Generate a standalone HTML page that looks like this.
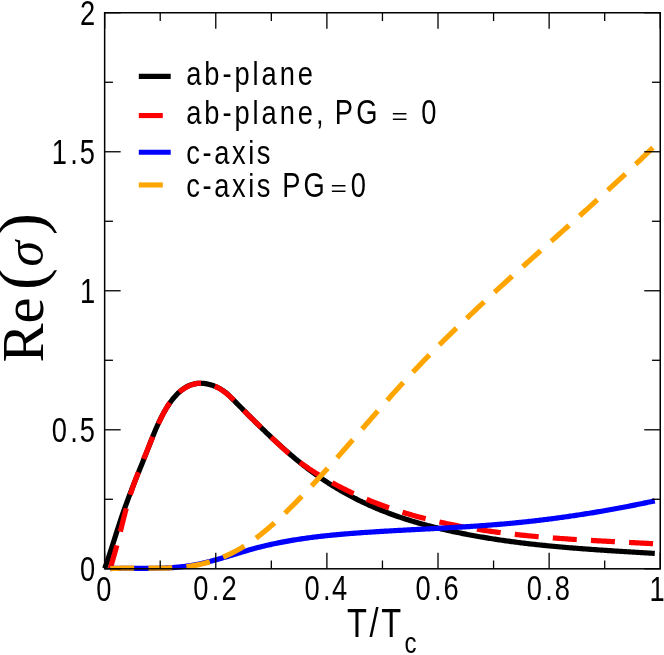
<!DOCTYPE html>
<html><head><meta charset="utf-8"><title>Re(sigma) vs T/Tc</title>
<style>
html,body{margin:0;padding:0;background:#fff;}
svg{display:block;font-family:"Liberation Sans",sans-serif;will-change:transform;}
.serif{font-family:"Liberation Serif",serif;}
</style></head><body>
<svg width="664" height="655" viewBox="0 0 664 655">
<rect x="0" y="0" width="664" height="655" fill="#fff"/>
<g fill="none" stroke-width="5.2" stroke-linecap="butt" stroke-linejoin="round">
<path stroke="#000" d="M104.70,568.41 L106.08,564.57 L107.46,560.60 L108.84,556.51 L110.21,552.33 L111.59,548.08 L112.97,543.78 L114.35,539.46 L115.73,535.13 L117.11,530.81 L118.49,526.54 L119.87,522.32 L121.24,518.18 L122.62,514.14 L124.00,510.20 L125.38,506.33 L126.76,502.54 L128.14,498.82 L129.52,495.17 L130.90,491.56 L132.27,488.01 L133.65,484.50 L135.03,481.02 L136.41,477.58 L137.79,474.15 L139.17,470.73 L140.55,467.32 L141.92,463.92 L143.30,460.50 L144.68,457.06 L146.06,453.60 L147.44,450.11 L148.82,446.59 L150.20,443.05 L151.58,439.52 L152.95,436.05 L154.33,432.65 L155.71,429.36 L157.09,426.21 L158.47,423.19 L159.85,420.29 L161.23,417.52 L162.61,414.88 L163.98,412.36 L165.36,409.96 L166.74,407.68 L168.12,405.52 L169.50,403.47 L170.88,401.54 L172.26,399.71 L173.63,398.00 L175.01,396.39 L176.39,394.88 L177.77,393.48 L179.15,392.18 L180.53,390.98 L181.91,389.88 L183.29,388.86 L184.66,387.95 L186.04,387.12 L187.42,386.38 L188.80,385.72 L190.18,385.15 L191.56,384.66 L192.94,384.24 L194.32,383.91 L195.69,383.64 L197.07,383.45 L198.45,383.32 L199.83,383.26 L201.21,383.26 L202.59,383.33 L203.97,383.45 L205.34,383.63 L206.72,383.87 L208.10,384.15 L209.48,384.49 L210.86,384.87 L212.24,385.30 L213.62,385.78 L215.00,386.31 L216.37,386.89 L217.75,387.54 L219.13,388.25 L220.51,389.02 L221.89,389.87 L223.27,390.78 L224.65,391.78 L226.03,392.85 L227.40,394.01 L228.78,395.25 L230.16,396.58 L231.54,397.97 L232.92,399.38 L234.30,400.78 L235.68,402.18 L237.05,403.58 L238.43,404.98 L239.81,406.38 L241.19,407.78 L242.57,409.17 L243.95,410.56 L245.33,411.95 L246.71,413.33 L248.08,414.72 L249.46,416.10 L250.84,417.47 L252.22,418.84 L253.60,420.21 L254.98,421.58 L256.36,422.94 L257.74,424.29 L259.11,425.64 L260.49,426.99 L261.87,428.33 L263.25,429.66 L264.63,430.99 L266.01,432.32 L267.39,433.64 L268.76,434.95 L270.14,436.25 L271.52,437.55 L272.90,438.84 L274.28,440.13 L275.66,441.41 L277.04,442.68 L278.42,443.94 L279.79,445.20 L281.17,446.44 L282.55,447.68 L283.93,448.91 L285.31,450.13 L286.69,451.35 L288.07,452.55 L289.45,453.74 L290.82,454.93 L292.20,456.10 L293.58,457.27 L294.96,458.42 L296.34,459.57 L297.72,460.70 L299.10,461.82 L300.47,462.94 L301.85,464.04 L303.23,465.13 L304.61,466.21 L305.99,467.27 L307.37,468.33 L308.75,469.37 L310.13,470.40 L311.50,471.43 L312.88,472.44 L314.26,473.44 L315.64,474.42 L317.02,475.40 L318.40,476.37 L319.78,477.32 L321.16,478.27 L322.53,479.20 L323.91,480.13 L325.29,481.04 L326.67,481.94 L328.05,482.84 L329.43,483.72 L330.81,484.59 L332.18,485.46 L333.56,486.31 L334.94,487.15 L336.32,487.98 L337.70,488.81 L339.08,489.62 L340.46,490.43 L341.84,491.22 L343.21,492.01 L344.59,492.78 L345.97,493.55 L347.35,494.31 L348.73,495.06 L350.11,495.80 L351.49,496.53 L352.87,497.25 L354.24,497.96 L355.62,498.67 L357.00,499.36 L358.38,500.05 L359.76,500.73 L361.14,501.40 L362.52,502.07 L363.89,502.72 L365.27,503.37 L366.65,504.01 L368.03,504.64 L369.41,505.26 L370.79,505.87 L372.17,506.48 L373.55,507.08 L374.92,507.67 L376.30,508.26 L377.68,508.84 L379.06,509.41 L380.44,509.97 L381.82,510.53 L383.20,511.08 L384.58,511.62 L385.95,512.15 L387.33,512.68 L388.71,513.20 L390.09,513.72 L391.47,514.23 L392.85,514.73 L394.23,515.22 L395.61,515.71 L396.98,516.20 L398.36,516.67 L399.74,517.14 L401.12,517.61 L402.50,518.07 L403.88,518.52 L405.26,518.97 L406.63,519.41 L408.01,519.85 L409.39,520.28 L410.77,520.70 L412.15,521.12 L413.53,521.54 L414.91,521.95 L416.29,522.35 L417.66,522.75 L419.04,523.14 L420.42,523.53 L421.80,523.92 L423.18,524.30 L424.56,524.67 L425.94,525.05 L427.32,525.41 L428.69,525.77 L430.07,526.13 L431.45,526.49 L432.83,526.84 L434.21,527.18 L435.59,527.52 L436.97,527.86 L438.34,528.19 L439.72,528.52 L441.10,528.85 L442.48,529.17 L443.86,529.49 L445.24,529.81 L446.62,530.12 L448.00,530.43 L449.37,530.74 L450.75,531.04 L452.13,531.34 L453.51,531.64 L454.89,531.93 L456.27,532.22 L457.65,532.51 L459.03,532.79 L460.40,533.07 L461.78,533.35 L463.16,533.63 L464.54,533.90 L465.92,534.17 L467.30,534.44 L468.68,534.70 L470.05,534.96 L471.43,535.22 L472.81,535.47 L474.19,535.73 L475.57,535.98 L476.95,536.22 L478.33,536.47 L479.71,536.71 L481.08,536.95 L482.46,537.18 L483.84,537.42 L485.22,537.65 L486.60,537.88 L487.98,538.10 L489.36,538.33 L490.74,538.55 L492.11,538.77 L493.49,538.98 L494.87,539.19 L496.25,539.41 L497.63,539.61 L499.01,539.82 L500.39,540.02 L501.76,540.23 L503.14,540.42 L504.52,540.62 L505.90,540.82 L507.28,541.01 L508.66,541.20 L510.04,541.39 L511.42,541.57 L512.79,541.76 L514.17,541.94 L515.55,542.12 L516.93,542.29 L518.31,542.47 L519.69,542.64 L521.07,542.81 L522.45,542.98 L523.82,543.15 L525.20,543.32 L526.58,543.48 L527.96,543.64 L529.34,543.80 L530.72,543.96 L532.10,544.11 L533.47,544.27 L534.85,544.42 L536.23,544.57 L537.61,544.72 L538.99,544.87 L540.37,545.01 L541.75,545.16 L543.13,545.30 L544.50,545.44 L545.88,545.58 L547.26,545.72 L548.64,545.85 L550.02,545.99 L551.40,546.12 L552.78,546.25 L554.16,546.38 L555.53,546.51 L556.91,546.63 L558.29,546.76 L559.67,546.88 L561.05,547.01 L562.43,547.13 L563.81,547.25 L565.18,547.37 L566.56,547.48 L567.94,547.60 L569.32,547.72 L570.70,547.83 L572.08,547.94 L573.46,548.05 L574.84,548.16 L576.21,548.27 L577.59,548.38 L578.97,548.49 L580.35,548.59 L581.73,548.70 L583.11,548.80 L584.49,548.91 L585.87,549.01 L587.24,549.11 L588.62,549.21 L590.00,549.31 L591.38,549.41 L592.76,549.51 L594.14,549.60 L595.52,549.70 L596.89,549.80 L598.27,549.89 L599.65,549.99 L601.03,550.08 L602.41,550.17 L603.79,550.26 L605.17,550.35 L606.55,550.45 L607.92,550.54 L609.30,550.63 L610.68,550.71 L612.06,550.80 L613.44,550.89 L614.82,550.98 L616.20,551.07 L617.58,551.15 L618.95,551.24 L620.33,551.33 L621.71,551.41 L623.09,551.50 L624.47,551.58 L625.85,551.67 L627.23,551.75 L628.60,551.84 L629.98,551.92 L631.36,552.00 L632.74,552.09 L634.12,552.17 L635.50,552.25 L636.88,552.34 L638.26,552.42 L639.63,552.50 L641.01,552.59 L642.39,552.67 L643.77,552.75 L645.15,552.84 L646.53,552.92 L647.91,553.00 L649.29,553.09 L650.66,553.17 L652.04,553.25 L653.42,553.34 L654.80,553.42"/>
<path stroke="#f00" stroke-dasharray="24.0 14.2" d="M110.30,568.49 L111.66,563.73 L113.03,559.02 L114.39,554.30 L115.76,549.46 L117.12,544.43 L118.49,539.16 L119.85,533.73 L121.22,528.21 L122.58,522.69 L123.95,517.24 L125.31,511.94 L126.68,506.88 L128.04,502.08 L129.41,497.55 L130.77,493.24 L132.13,489.15 L133.50,485.23 L134.86,481.46 L136.23,477.83 L137.59,474.30 L138.96,470.85 L140.32,467.45 L141.69,464.08 L143.05,460.72 L144.42,457.34 L145.78,453.95 L147.15,450.55 L148.51,447.17 L149.88,443.80 L151.24,440.46 L152.60,437.16 L153.97,433.90 L155.33,430.70 L156.70,427.56 L158.06,424.51 L159.43,421.53 L160.79,418.66 L162.16,415.88 L163.52,413.22 L164.89,410.69 L166.25,408.29 L167.62,406.03 L168.98,403.92 L170.35,401.95 L171.71,400.11 L173.07,398.40 L174.44,396.81 L175.80,395.34 L177.17,393.97 L178.53,392.72 L179.90,391.56 L181.26,390.49 L182.63,389.51 L183.99,388.60 L185.36,387.77 L186.72,387.02 L188.09,386.33 L189.45,385.71 L190.82,385.15 L192.18,384.67 L193.54,384.25 L194.91,383.90 L196.27,383.62 L197.64,383.40 L199.00,383.25 L200.37,383.16 L201.73,383.14 L203.10,383.18 L204.46,383.28 L205.83,383.45 L207.19,383.69 L208.56,383.98 L209.92,384.34 L211.28,384.76 L212.65,385.24 L214.01,385.79 L215.38,386.39 L216.74,387.05 L218.11,387.78 L219.47,388.56 L220.84,389.40 L222.20,390.30 L223.57,391.26 L224.93,392.28 L226.30,393.36 L227.66,394.49 L229.03,395.67 L230.39,396.91 L231.75,398.18 L233.12,399.50 L234.48,400.84 L235.85,402.22 L237.21,403.61 L238.58,405.02 L239.94,406.44 L241.31,407.86 L242.67,409.28 L244.04,410.69 L245.40,412.09 L246.77,413.47 L248.13,414.84 L249.50,416.20 L250.86,417.55 L252.22,418.88 L253.59,420.21 L254.95,421.53 L256.32,422.84 L257.68,424.16 L259.05,425.47 L260.41,426.78 L261.78,428.09 L263.14,429.40 L264.51,430.72 L265.87,432.04 L267.24,433.36 L268.60,434.68 L269.97,436.01 L271.33,437.32 L272.69,438.64 L274.06,439.95 L275.42,441.25 L276.79,442.55 L278.15,443.83 L279.52,445.11 L280.88,446.37 L282.25,447.62 L283.61,448.85 L284.98,450.07 L286.34,451.28 L287.71,452.46 L289.07,453.62 L290.44,454.77 L291.80,455.89 L293.16,457.00 L294.53,458.09 L295.89,459.17 L297.26,460.22 L298.62,461.26 L299.99,462.29 L301.35,463.30 L302.72,464.29 L304.08,465.27 L305.45,466.23 L306.81,467.18 L308.18,468.12 L309.54,469.04 L310.91,469.95 L312.27,470.84 L313.63,471.73 L315.00,472.60 L316.36,473.46 L317.73,474.31 L319.09,475.15 L320.46,475.98 L321.82,476.79 L323.19,477.60 L324.55,478.40 L325.92,479.19 L327.28,479.98 L328.65,480.75 L330.01,481.52 L331.38,482.27 L332.74,483.02 L334.10,483.77 L335.47,484.50 L336.83,485.23 L338.20,485.95 L339.56,486.66 L340.93,487.36 L342.29,488.06 L343.66,488.75 L345.02,489.43 L346.39,490.10 L347.75,490.77 L349.12,491.43 L350.48,492.08 L351.85,492.73 L353.21,493.36 L354.57,493.99 L355.94,494.62 L357.30,495.24 L358.67,495.85 L360.03,496.45 L361.40,497.05 L362.76,497.64 L364.13,498.22 L365.49,498.80 L366.86,499.37 L368.22,499.94 L369.59,500.50 L370.95,501.05 L372.32,501.60 L373.68,502.14 L375.04,502.67 L376.41,503.20 L377.77,503.72 L379.14,504.24 L380.50,504.75 L381.87,505.25 L383.23,505.75 L384.60,506.24 L385.96,506.73 L387.33,507.21 L388.69,507.69 L390.06,508.16 L391.42,508.63 L392.78,509.09 L394.15,509.54 L395.51,509.99 L396.88,510.44 L398.24,510.88 L399.61,511.31 L400.97,511.74 L402.34,512.17 L403.70,512.59 L405.07,513.00 L406.43,513.42 L407.80,513.82 L409.16,514.22 L410.53,514.62 L411.89,515.01 L413.25,515.40 L414.62,515.78 L415.98,516.16 L417.35,516.53 L418.71,516.90 L420.08,517.27 L421.44,517.63 L422.81,517.98 L424.17,518.34 L425.54,518.69 L426.90,519.03 L428.27,519.37 L429.63,519.71 L431.00,520.04 L432.36,520.37 L433.72,520.69 L435.09,521.01 L436.45,521.33 L437.82,521.64 L439.18,521.95 L440.55,522.26 L441.91,522.56 L443.28,522.86 L444.64,523.16 L446.01,523.45 L447.37,523.74 L448.74,524.03 L450.10,524.31 L451.47,524.59 L452.83,524.87 L454.19,525.14 L455.56,525.41 L456.92,525.67 L458.29,525.94 L459.65,526.20 L461.02,526.45 L462.38,526.71 L463.75,526.96 L465.11,527.21 L466.48,527.45 L467.84,527.69 L469.21,527.93 L470.57,528.17 L471.94,528.40 L473.30,528.63 L474.66,528.86 L476.03,529.08 L477.39,529.30 L478.76,529.52 L480.12,529.73 L481.49,529.95 L482.85,530.16 L484.22,530.36 L485.58,530.57 L486.95,530.77 L488.31,530.97 L489.68,531.17 L491.04,531.36 L492.41,531.55 L493.77,531.74 L495.13,531.93 L496.50,532.11 L497.86,532.30 L499.23,532.48 L500.59,532.65 L501.96,532.83 L503.32,533.00 L504.69,533.17 L506.05,533.34 L507.42,533.50 L508.78,533.67 L510.15,533.83 L511.51,533.99 L512.88,534.14 L514.24,534.30 L515.60,534.45 L516.97,534.60 L518.33,534.75 L519.70,534.90 L521.06,535.04 L522.43,535.18 L523.79,535.32 L525.16,535.46 L526.52,535.60 L527.89,535.73 L529.25,535.87 L530.62,536.00 L531.98,536.13 L533.35,536.26 L534.71,536.38 L536.07,536.51 L537.44,536.63 L538.80,536.75 L540.17,536.87 L541.53,536.99 L542.90,537.10 L544.26,537.22 L545.63,537.33 L546.99,537.44 L548.36,537.56 L549.72,537.66 L551.09,537.77 L552.45,537.88 L553.82,537.98 L555.18,538.09 L556.54,538.19 L557.91,538.29 L559.27,538.39 L560.64,538.49 L562.00,538.58 L563.37,538.68 L564.73,538.77 L566.10,538.87 L567.46,538.96 L568.83,539.05 L570.19,539.14 L571.56,539.23 L572.92,539.32 L574.28,539.41 L575.65,539.50 L577.01,539.58 L578.38,539.67 L579.74,539.75 L581.11,539.83 L582.47,539.92 L583.84,540.00 L585.20,540.08 L586.57,540.16 L587.93,540.24 L589.30,540.32 L590.66,540.39 L592.03,540.47 L593.39,540.55 L594.75,540.62 L596.12,540.70 L597.48,540.78 L598.85,540.85 L600.21,540.92 L601.58,541.00 L602.94,541.07 L604.31,541.14 L605.67,541.22 L607.04,541.29 L608.40,541.36 L609.77,541.43 L611.13,541.50 L612.50,541.58 L613.86,541.65 L615.22,541.72 L616.59,541.79 L617.95,541.86 L619.32,541.93 L620.68,542.00 L622.05,542.07 L623.41,542.14 L624.78,542.21 L626.14,542.28 L627.51,542.35 L628.87,542.42 L630.24,542.49 L631.60,542.56 L632.97,542.64 L634.33,542.71 L635.69,542.78 L637.06,542.85 L638.42,542.92 L639.79,542.99 L641.15,543.07 L642.52,543.14 L643.88,543.21 L645.25,543.29 L646.61,543.36 L647.98,543.43 L649.34,543.51 L650.71,543.59 L652.07,543.66 L653.44,543.74 L654.80,543.82"/>
<path stroke="#00f" d="M110.30,568.53 L111.66,568.49 L113.03,568.46 L114.39,568.44 L115.76,568.41 L117.12,568.39 L118.49,568.38 L119.85,568.37 L121.22,568.36 L122.58,568.35 L123.95,568.35 L125.31,568.34 L126.68,568.34 L128.04,568.35 L129.41,568.35 L130.77,568.35 L132.13,568.36 L133.50,568.36 L134.86,568.37 L136.23,568.37 L137.59,568.38 L138.96,568.38 L140.32,568.39 L141.69,568.39 L143.05,568.39 L144.42,568.39 L145.78,568.39 L147.15,568.38 L148.51,568.38 L149.88,568.37 L151.24,568.36 L152.60,568.34 L153.97,568.32 L155.33,568.30 L156.70,568.27 L158.06,568.24 L159.43,568.21 L160.79,568.17 L162.16,568.12 L163.52,568.07 L164.89,568.01 L166.25,567.95 L167.62,567.88 L168.98,567.81 L170.35,567.73 L171.71,567.64 L173.07,567.55 L174.44,567.44 L175.80,567.33 L177.17,567.21 L178.53,567.09 L179.90,566.95 L181.26,566.81 L182.63,566.66 L183.99,566.49 L185.36,566.32 L186.72,566.14 L188.09,565.95 L189.45,565.75 L190.82,565.53 L192.18,565.31 L193.54,565.08 L194.91,564.83 L196.27,564.57 L197.64,564.30 L199.00,564.02 L200.37,563.73 L201.73,563.43 L203.10,563.12 L204.46,562.81 L205.83,562.48 L207.19,562.14 L208.56,561.80 L209.92,561.45 L211.28,561.09 L212.65,560.73 L214.01,560.35 L215.38,559.98 L216.74,559.60 L218.11,559.21 L219.47,558.82 L220.84,558.42 L222.20,558.02 L223.57,557.62 L224.93,557.21 L226.30,556.80 L227.66,556.39 L229.03,555.98 L230.39,555.56 L231.75,555.15 L233.12,554.73 L234.48,554.31 L235.85,553.90 L237.21,553.48 L238.58,553.07 L239.94,552.66 L241.31,552.25 L242.67,551.84 L244.04,551.43 L245.40,551.03 L246.77,550.63 L248.13,550.23 L249.50,549.84 L250.86,549.46 L252.22,549.08 L253.59,548.70 L254.95,548.33 L256.32,547.97 L257.68,547.61 L259.05,547.26 L260.41,546.91 L261.78,546.57 L263.14,546.24 L264.51,545.91 L265.87,545.58 L267.24,545.27 L268.60,544.95 L269.97,544.64 L271.33,544.34 L272.69,544.04 L274.06,543.75 L275.42,543.46 L276.79,543.18 L278.15,542.90 L279.52,542.63 L280.88,542.36 L282.25,542.09 L283.61,541.83 L284.98,541.58 L286.34,541.33 L287.71,541.08 L289.07,540.84 L290.44,540.61 L291.80,540.37 L293.16,540.14 L294.53,539.92 L295.89,539.70 L297.26,539.48 L298.62,539.27 L299.99,539.06 L301.35,538.86 L302.72,538.65 L304.08,538.46 L305.45,538.26 L306.81,538.07 L308.18,537.89 L309.54,537.70 L310.91,537.52 L312.27,537.35 L313.63,537.17 L315.00,537.00 L316.36,536.84 L317.73,536.67 L319.09,536.51 L320.46,536.36 L321.82,536.20 L323.19,536.05 L324.55,535.90 L325.92,535.75 L327.28,535.61 L328.65,535.47 L330.01,535.33 L331.38,535.20 L332.74,535.06 L334.10,534.93 L335.47,534.80 L336.83,534.68 L338.20,534.55 L339.56,534.43 L340.93,534.31 L342.29,534.19 L343.66,534.07 L345.02,533.96 L346.39,533.85 L347.75,533.74 L349.12,533.63 L350.48,533.52 L351.85,533.41 L353.21,533.31 L354.57,533.21 L355.94,533.10 L357.30,533.00 L358.67,532.91 L360.03,532.81 L361.40,532.71 L362.76,532.62 L364.13,532.52 L365.49,532.43 L366.86,532.34 L368.22,532.25 L369.59,532.16 L370.95,532.07 L372.32,531.98 L373.68,531.89 L375.04,531.80 L376.41,531.72 L377.77,531.63 L379.14,531.55 L380.50,531.47 L381.87,531.39 L383.23,531.30 L384.60,531.22 L385.96,531.14 L387.33,531.06 L388.69,530.98 L390.06,530.91 L391.42,530.83 L392.78,530.75 L394.15,530.68 L395.51,530.60 L396.88,530.52 L398.24,530.45 L399.61,530.37 L400.97,530.30 L402.34,530.23 L403.70,530.15 L405.07,530.08 L406.43,530.01 L407.80,529.93 L409.16,529.86 L410.53,529.79 L411.89,529.72 L413.25,529.65 L414.62,529.57 L415.98,529.50 L417.35,529.43 L418.71,529.36 L420.08,529.29 L421.44,529.22 L422.81,529.15 L424.17,529.07 L425.54,529.00 L426.90,528.93 L428.27,528.86 L429.63,528.79 L431.00,528.72 L432.36,528.64 L433.72,528.57 L435.09,528.50 L436.45,528.43 L437.82,528.35 L439.18,528.28 L440.55,528.20 L441.91,528.13 L443.28,528.06 L444.64,527.98 L446.01,527.91 L447.37,527.83 L448.74,527.75 L450.10,527.68 L451.47,527.60 L452.83,527.52 L454.19,527.44 L455.56,527.36 L456.92,527.28 L458.29,527.20 L459.65,527.12 L461.02,527.04 L462.38,526.95 L463.75,526.87 L465.11,526.79 L466.48,526.70 L467.84,526.61 L469.21,526.53 L470.57,526.44 L471.94,526.35 L473.30,526.26 L474.66,526.17 L476.03,526.08 L477.39,525.98 L478.76,525.89 L480.12,525.79 L481.49,525.70 L482.85,525.60 L484.22,525.50 L485.58,525.40 L486.95,525.30 L488.31,525.20 L489.68,525.09 L491.04,524.99 L492.41,524.88 L493.77,524.77 L495.13,524.66 L496.50,524.55 L497.86,524.44 L499.23,524.33 L500.59,524.21 L501.96,524.09 L503.32,523.98 L504.69,523.86 L506.05,523.73 L507.42,523.61 L508.78,523.49 L510.15,523.36 L511.51,523.23 L512.88,523.10 L514.24,522.97 L515.60,522.84 L516.97,522.70 L518.33,522.57 L519.70,522.43 L521.06,522.29 L522.43,522.15 L523.79,522.01 L525.16,521.86 L526.52,521.72 L527.89,521.57 L529.25,521.42 L530.62,521.27 L531.98,521.12 L533.35,520.96 L534.71,520.81 L536.07,520.65 L537.44,520.49 L538.80,520.33 L540.17,520.17 L541.53,520.00 L542.90,519.84 L544.26,519.67 L545.63,519.50 L546.99,519.33 L548.36,519.16 L549.72,518.99 L551.09,518.81 L552.45,518.63 L553.82,518.46 L555.18,518.28 L556.54,518.09 L557.91,517.91 L559.27,517.73 L560.64,517.54 L562.00,517.35 L563.37,517.16 L564.73,516.97 L566.10,516.78 L567.46,516.58 L568.83,516.39 L570.19,516.19 L571.56,515.99 L572.92,515.79 L574.28,515.59 L575.65,515.38 L577.01,515.18 L578.38,514.97 L579.74,514.76 L581.11,514.55 L582.47,514.34 L583.84,514.12 L585.20,513.91 L586.57,513.69 L587.93,513.47 L589.30,513.25 L590.66,513.03 L592.03,512.81 L593.39,512.58 L594.75,512.36 L596.12,512.13 L597.48,511.90 L598.85,511.67 L600.21,511.44 L601.58,511.20 L602.94,510.97 L604.31,510.73 L605.67,510.49 L607.04,510.25 L608.40,510.01 L609.77,509.76 L611.13,509.52 L612.50,509.27 L613.86,509.02 L615.22,508.77 L616.59,508.52 L617.95,508.27 L619.32,508.01 L620.68,507.76 L622.05,507.50 L623.41,507.24 L624.78,506.98 L626.14,506.72 L627.51,506.45 L628.87,506.19 L630.24,505.92 L631.60,505.65 L632.97,505.38 L634.33,505.11 L635.69,504.84 L637.06,504.56 L638.42,504.28 L639.79,504.01 L641.15,503.73 L642.52,503.45 L643.88,503.16 L645.25,502.88 L646.61,502.59 L647.98,502.31 L649.34,502.02 L650.71,501.73 L652.07,501.43 L653.44,501.14 L654.80,500.85"/>
<path stroke="#ffa500" stroke-dasharray="23.9 14.2" d="M110.30,568.67 L111.66,568.59 L113.03,568.51 L114.39,568.44 L115.76,568.38 L117.12,568.32 L118.49,568.28 L119.85,568.23 L121.22,568.20 L122.58,568.17 L123.95,568.14 L125.31,568.12 L126.68,568.11 L128.04,568.10 L129.41,568.09 L130.77,568.08 L132.13,568.08 L133.50,568.08 L134.86,568.09 L136.23,568.09 L137.59,568.10 L138.96,568.11 L140.32,568.12 L141.69,568.13 L143.05,568.14 L144.42,568.16 L145.78,568.17 L147.15,568.18 L148.51,568.18 L149.88,568.19 L151.24,568.20 L152.60,568.20 L153.97,568.20 L155.33,568.20 L156.70,568.20 L158.06,568.19 L159.43,568.18 L160.79,568.16 L162.16,568.14 L163.52,568.11 L164.89,568.08 L166.25,568.05 L167.62,568.00 L168.98,567.95 L170.35,567.90 L171.71,567.84 L173.07,567.77 L174.44,567.69 L175.80,567.60 L177.17,567.51 L178.53,567.41 L179.90,567.30 L181.26,567.17 L182.63,567.04 L183.99,566.90 L185.36,566.75 L186.72,566.59 L188.09,566.42 L189.45,566.23 L190.82,566.03 L192.18,565.83 L193.54,565.60 L194.91,565.37 L196.27,565.12 L197.64,564.86 L199.00,564.59 L200.37,564.30 L201.73,563.99 L203.10,563.67 L204.46,563.34 L205.83,562.99 L207.19,562.62 L208.56,562.24 L209.92,561.84 L211.28,561.42 L212.65,560.99 L214.01,560.54 L215.38,560.07 L216.74,559.59 L218.11,559.09 L219.47,558.57 L220.84,558.03 L222.20,557.48 L223.57,556.91 L224.93,556.32 L226.30,555.71 L227.66,555.09 L229.03,554.45 L230.39,553.79 L231.75,553.11 L233.12,552.42 L234.48,551.71 L235.85,550.98 L237.21,550.23 L238.58,549.46 L239.94,548.68 L241.31,547.88 L242.67,547.06 L244.04,546.22 L245.40,545.36 L246.77,544.49 L248.13,543.60 L249.50,542.68 L250.86,541.75 L252.22,540.80 L253.59,539.84 L254.95,538.85 L256.32,537.85 L257.68,536.82 L259.05,535.78 L260.41,534.72 L261.78,533.64 L263.14,532.55 L264.51,531.44 L265.87,530.31 L267.24,529.17 L268.60,528.01 L269.97,526.84 L271.33,525.65 L272.69,524.45 L274.06,523.23 L275.42,522.00 L276.79,520.76 L278.15,519.51 L279.52,518.25 L280.88,516.97 L282.25,515.68 L283.61,514.39 L284.98,513.08 L286.34,511.76 L287.71,510.44 L289.07,509.10 L290.44,507.76 L291.80,506.41 L293.16,505.05 L294.53,503.68 L295.89,502.30 L297.26,500.91 L298.62,499.52 L299.99,498.12 L301.35,496.71 L302.72,495.30 L304.08,493.87 L305.45,492.44 L306.81,491.00 L308.18,489.56 L309.54,488.11 L310.91,486.65 L312.27,485.19 L313.63,483.72 L315.00,482.25 L316.36,480.77 L317.73,479.28 L319.09,477.79 L320.46,476.29 L321.82,474.79 L323.19,473.29 L324.55,471.78 L325.92,470.26 L327.28,468.74 L328.65,467.22 L330.01,465.69 L331.38,464.16 L332.74,462.62 L334.10,461.08 L335.47,459.54 L336.83,458.00 L338.20,456.45 L339.56,454.90 L340.93,453.35 L342.29,451.79 L343.66,450.23 L345.02,448.67 L346.39,447.11 L347.75,445.55 L349.12,443.98 L350.48,442.41 L351.85,440.85 L353.21,439.28 L354.57,437.71 L355.94,436.14 L357.30,434.56 L358.67,432.99 L360.03,431.42 L361.40,429.85 L362.76,428.28 L364.13,426.71 L365.49,425.14 L366.86,423.56 L368.22,422.00 L369.59,420.43 L370.95,418.86 L372.32,417.29 L373.68,415.73 L375.04,414.17 L376.41,412.60 L377.77,411.05 L379.14,409.49 L380.50,407.93 L381.87,406.38 L383.23,404.83 L384.60,403.29 L385.96,401.74 L387.33,400.20 L388.69,398.66 L390.06,397.13 L391.42,395.60 L392.78,394.08 L394.15,392.55 L395.51,391.04 L396.88,389.52 L398.24,388.01 L399.61,386.51 L400.97,385.01 L402.34,383.52 L403.70,382.03 L405.07,380.54 L406.43,379.07 L407.80,377.59 L409.16,376.13 L410.53,374.66 L411.89,373.21 L413.25,371.75 L414.62,370.31 L415.98,368.86 L417.35,367.43 L418.71,365.99 L420.08,364.57 L421.44,363.14 L422.81,361.73 L424.17,360.31 L425.54,358.90 L426.90,357.50 L428.27,356.10 L429.63,354.71 L431.00,353.31 L432.36,351.93 L433.72,350.55 L435.09,349.17 L436.45,347.80 L437.82,346.43 L439.18,345.06 L440.55,343.70 L441.91,342.34 L443.28,340.99 L444.64,339.64 L446.01,338.29 L447.37,336.95 L448.74,335.62 L450.10,334.28 L451.47,332.95 L452.83,331.62 L454.19,330.30 L455.56,328.98 L456.92,327.67 L458.29,326.35 L459.65,325.04 L461.02,323.74 L462.38,322.43 L463.75,321.14 L465.11,319.84 L466.48,318.55 L467.84,317.26 L469.21,315.97 L470.57,314.68 L471.94,313.38 L473.30,312.08 L474.66,310.79 L476.03,309.50 L477.39,308.21 L478.76,306.93 L480.12,305.65 L481.49,304.37 L482.85,303.09 L484.22,301.82 L485.58,300.55 L486.95,299.28 L488.31,298.01 L489.68,296.74 L491.04,295.48 L492.41,294.22 L493.77,292.96 L495.13,291.71 L496.50,290.45 L497.86,289.20 L499.23,287.95 L500.59,286.70 L501.96,285.45 L503.32,284.21 L504.69,282.97 L506.05,281.72 L507.42,280.48 L508.78,279.24 L510.15,278.01 L511.51,276.77 L512.88,275.54 L514.24,274.30 L515.60,273.07 L516.97,271.84 L518.33,270.61 L519.70,269.39 L521.06,268.16 L522.43,266.93 L523.79,265.71 L525.16,264.48 L526.52,263.26 L527.89,262.04 L529.25,260.82 L530.62,259.60 L531.98,258.38 L533.35,257.16 L534.71,255.94 L536.07,254.72 L537.44,253.50 L538.80,252.28 L540.17,251.07 L541.53,249.85 L542.90,248.63 L544.26,247.42 L545.63,246.20 L546.99,244.99 L548.36,243.77 L549.72,242.56 L551.09,241.34 L552.45,240.12 L553.82,238.91 L555.18,237.69 L556.54,236.48 L557.91,235.26 L559.27,234.04 L560.64,232.83 L562.00,231.61 L563.37,230.39 L564.73,229.17 L566.10,227.95 L567.46,226.73 L568.83,225.51 L570.19,224.29 L571.56,223.07 L572.92,221.85 L574.28,220.62 L575.65,219.40 L577.01,218.17 L578.38,216.95 L579.74,215.72 L581.11,214.49 L582.47,213.26 L583.84,212.03 L585.20,210.79 L586.57,209.56 L587.93,208.33 L589.30,207.09 L590.66,205.85 L592.03,204.61 L593.39,203.37 L594.75,202.13 L596.12,200.88 L597.48,199.64 L598.85,198.39 L600.21,197.14 L601.58,195.91 L602.94,194.67 L604.31,193.43 L605.67,192.19 L607.04,190.95 L608.40,189.70 L609.77,188.45 L611.13,187.20 L612.50,185.95 L613.86,184.70 L615.22,183.44 L616.59,182.18 L617.95,180.92 L619.32,179.66 L620.68,178.39 L622.05,177.12 L623.41,175.85 L624.78,174.57 L626.14,173.30 L627.51,172.01 L628.87,170.73 L630.24,169.44 L631.60,168.16 L632.97,166.86 L634.33,165.57 L635.69,164.27 L637.06,162.97 L638.42,161.66 L639.79,160.35 L641.15,159.04 L642.52,157.73 L643.88,156.41 L645.25,155.09 L646.61,153.76 L647.98,152.43 L649.34,151.10 L650.71,149.76 L652.07,148.42 L653.44,147.08 L654.80,145.73"/>
</g>
<g stroke="#000" stroke-width="1.3" fill="none"><line x1="104.65" y1="568.80" x2="104.65" y2="552.80"/><line x1="104.65" y1="12.75" x2="104.65" y2="28.75"/><line x1="160.21" y1="568.80" x2="160.21" y2="560.50"/><line x1="160.21" y1="12.75" x2="160.21" y2="21.05"/><line x1="215.77" y1="568.80" x2="215.77" y2="552.80"/><line x1="215.77" y1="12.75" x2="215.77" y2="28.75"/><line x1="271.33" y1="568.80" x2="271.33" y2="560.50"/><line x1="271.33" y1="12.75" x2="271.33" y2="21.05"/><line x1="326.89" y1="568.80" x2="326.89" y2="552.80"/><line x1="326.89" y1="12.75" x2="326.89" y2="28.75"/><line x1="382.45" y1="568.80" x2="382.45" y2="560.50"/><line x1="382.45" y1="12.75" x2="382.45" y2="21.05"/><line x1="438.01" y1="568.80" x2="438.01" y2="552.80"/><line x1="438.01" y1="12.75" x2="438.01" y2="28.75"/><line x1="493.57" y1="568.80" x2="493.57" y2="560.50"/><line x1="493.57" y1="12.75" x2="493.57" y2="21.05"/><line x1="549.13" y1="568.80" x2="549.13" y2="552.80"/><line x1="549.13" y1="12.75" x2="549.13" y2="28.75"/><line x1="604.69" y1="568.80" x2="604.69" y2="560.50"/><line x1="604.69" y1="12.75" x2="604.69" y2="21.05"/><line x1="660.25" y1="568.80" x2="660.25" y2="552.80"/><line x1="660.25" y1="12.75" x2="660.25" y2="28.75"/><line x1="104.65" y1="568.80" x2="120.65" y2="568.80"/><line x1="660.25" y1="568.80" x2="644.25" y2="568.80"/><line x1="104.65" y1="499.29" x2="112.95" y2="499.29"/><line x1="660.25" y1="499.29" x2="651.95" y2="499.29"/><line x1="104.65" y1="429.79" x2="120.65" y2="429.79"/><line x1="660.25" y1="429.79" x2="644.25" y2="429.79"/><line x1="104.65" y1="360.28" x2="112.95" y2="360.28"/><line x1="660.25" y1="360.28" x2="651.95" y2="360.28"/><line x1="104.65" y1="290.77" x2="120.65" y2="290.77"/><line x1="660.25" y1="290.77" x2="644.25" y2="290.77"/><line x1="104.65" y1="221.27" x2="112.95" y2="221.27"/><line x1="660.25" y1="221.27" x2="651.95" y2="221.27"/><line x1="104.65" y1="151.76" x2="120.65" y2="151.76"/><line x1="660.25" y1="151.76" x2="644.25" y2="151.76"/><line x1="104.65" y1="82.26" x2="112.95" y2="82.26"/><line x1="660.25" y1="82.26" x2="651.95" y2="82.26"/><line x1="104.65" y1="12.75" x2="120.65" y2="12.75"/><line x1="660.25" y1="12.75" x2="644.25" y2="12.75"/></g>
<rect x="104.65" y="12.75" width="555.60" height="556.05" fill="none" stroke="#000" stroke-width="1.5"/>
<g fill="#000">
<text transform="translate(79.88,580.90) scale(0.778,1)" font-size="35.1"><tspan x="0.00">0</tspan></text>
<text transform="translate(51.73,441.89) scale(0.778,1)" font-size="35.1"><tspan x="0.00">0</tspan><tspan x="23.87">.</tspan><tspan x="35.89">5</tspan></text>
<text transform="translate(79.88,302.88) scale(0.778,1)" font-size="35.1"><tspan x="0.00">1</tspan></text>
<text transform="translate(51.73,163.86) scale(0.778,1)" font-size="35.1"><tspan x="0.00">1</tspan></text><text transform="translate(70.31,163.86) scale(0.778,1)" font-size="35.1"><tspan x="0.00">.</tspan><tspan x="12.02">5</tspan></text>
<text transform="translate(79.89,24.85) scale(0.778,1)" font-size="35.1"><tspan x="0.00">2</tspan></text>
<text transform="translate(96.23,600.70) scale(0.778,1)" font-size="35.1"><tspan x="0.00">0</tspan></text>
<text transform="translate(193.30,600.40) scale(0.778,1)" font-size="35.1"><tspan x="0.00">0</tspan><tspan x="23.87">.</tspan><tspan x="36.19">2</tspan></text>
<text transform="translate(304.42,600.40) scale(0.778,1)" font-size="35.1"><tspan x="0.00">0</tspan><tspan x="23.87">.</tspan><tspan x="35.45">4</tspan></text>
<text transform="translate(415.54,600.40) scale(0.778,1)" font-size="35.1"><tspan x="0.00">0</tspan><tspan x="23.87">.</tspan><tspan x="35.96">6</tspan></text>
<text transform="translate(526.66,600.40) scale(0.778,1)" font-size="35.1"><tspan x="0.00">0</tspan><tspan x="23.87">.</tspan><tspan x="35.95">8</tspan></text>
<text transform="translate(649.53,600.60) scale(0.778,1)" font-size="35.1"><tspan x="0.00">1</tspan></text>
<line x1="138.8" y1="76.4" x2="170.7" y2="76.4" stroke="#000" stroke-width="5.1"/>
<line x1="138.8" y1="115.55" x2="162.8" y2="115.55" stroke="#f00" stroke-width="5.1"/>
<line x1="138.8" y1="152.3" x2="170.7" y2="152.3" stroke="#00f" stroke-width="5.1"/>
<line x1="138.8" y1="184.95" x2="162.8" y2="184.95" stroke="#ffa500" stroke-width="5.1"/>
<text transform="translate(186.20,84.80) scale(0.8400,1.0000)" font-size="32.5" style="letter-spacing:3.50px">ab-plane</text>
<text transform="translate(186.20,124.30) scale(0.8400,1.0000)" font-size="32.5" style="letter-spacing:3.50px">ab-plane,</text><text transform="translate(334.80,124.30) scale(0.7959,1.0000)" font-size="34.3" style="letter-spacing:4.17px">PG</text><text transform="translate(391.53,123.82) scale(0.8235,0.6600)" font-size="34">=</text><text transform="translate(421.20,124.30) scale(0.7959,1.0000)" font-size="34.3">0</text>
<text transform="translate(186.20,163.50) scale(0.8400,1.0000)" font-size="32.5" style="letter-spacing:3.10px">c-axis</text>
<text transform="translate(186.20,196.60) scale(0.8400,1.0000)" font-size="32.5" style="letter-spacing:3.10px">c-axis</text><text transform="translate(282.30,196.60) scale(0.7959,1.0000)" font-size="34.3" style="letter-spacing:3.70px">PG</text><text transform="translate(330.43,196.12) scale(0.8235,0.6600)" font-size="34">=</text><text transform="translate(350.70,196.60) scale(0.7959,1.0000)" font-size="34.3">0</text>
<text transform="translate(347.00,637.20) scale(0.808,1)" text-anchor="start" font-size="40.4" style="letter-spacing:3.25px" >T/T</text>
<text transform="translate(404.40,652.70) scale(0.82,1)" text-anchor="start" font-size="29.3" style="letter-spacing:0px" >c</text>
<g class="serif" transform="translate(42.8,362.4) rotate(-90)"><text x="0" y="0" font-size="58.5">Re</text></g>
<text class="serif" transform="translate(42.8,290) rotate(-90)" font-size="66">(</text>
<text class="serif" transform="translate(42.2,266.5) rotate(-90)" font-size="52" font-style="italic">σ</text>
<text class="serif" transform="translate(42.8,235) rotate(-90)" font-size="66">)</text>
</g>
</svg>
</body></html>
